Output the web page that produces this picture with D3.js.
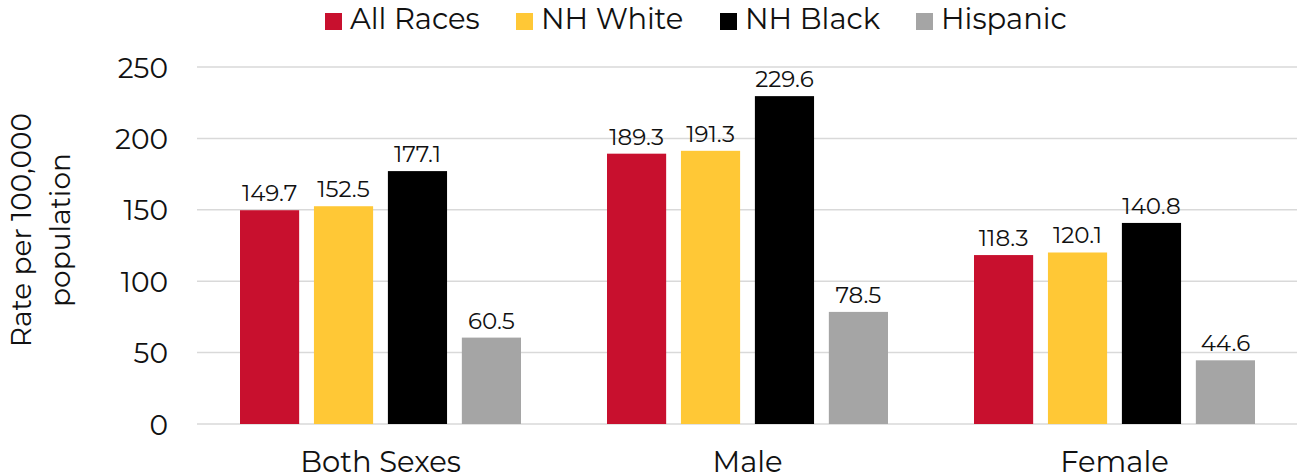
<!DOCTYPE html>
<html>
<head>
<meta charset="utf-8">
<script src="https://cdn.jsdelivr.net/npm/d3@7"></script>
<style>
  body { margin: 0; background: #fff; }
  svg text { font-family: Montserrat, "DejaVu Sans", sans-serif; fill: #111; }
</style>
</head>
<body>
<div id="chart"></div>
<script>
// data
const categories = ['Both Sexes', 'Male', 'Female'];
const seriesNames = ['All Races', 'NH White', 'NH Black', 'Hispanic'];
const allRaces = [149.7, 189.3, 118.3];
const nhWhite = [152.5, 191.3, 120.1];
const nhBlack = [177.1, 229.6, 140.8];
const hispanic = [60.5, 78.5, 44.6];
const yTicks = [0, 50, 100, 150, 200, 250];
const colors = ['#C8102E', '#FFC836', '#000000', '#A5A5A5'];

const seriesValues = [allRaces, nhWhite, nhBlack, hispanic];
const width = 1297, height = 476;
const margin = {top: 67, right: 0, bottom: 52, left: 197};

const svg = d3.select('#chart').append('svg')
  .attr('width', width)
  .attr('height', height);

const x0 = d3.scaleBand()
  .domain(categories)
  .range([margin.left, width + 1])
  .padding(0);

const outer = 43;
const x1 = d3.scaleBand()
  .domain(seriesNames)
  .range([outer, x0.bandwidth() - outer])
  .paddingInner(0.2);

const y = d3.scaleLinear()
  .domain([0, 250])
  .range([height - margin.bottom, margin.top]);

// grid
svg.append('g')
  .selectAll('line')
  .data(yTicks)
  .join('line')
  .attr('x1', margin.left)
  .attr('x2', width)
  .attr('y1', d => y(d))
  .attr('y2', d => y(d))
  .attr('stroke', '#d9d9d9')
  .attr('stroke-width', 1.5);

// y axis
const yAxis = svg.append('g')
  .attr('transform', `translate(${margin.left},0)`)
  .call(d3.axisLeft(y).tickValues(yTicks).tickSize(0).tickPadding(29));
yAxis.select('.domain').remove();
yAxis.selectAll('text')
  .style('font-size', '28px')
  .attr('dy', '0.36em');

// y title
const yt = svg.append('text')
  .attr('transform', `translate(41,230) rotate(-90)`)
  .attr('text-anchor', 'middle')
  .style('font-size', '28px');
yt.append('tspan').attr('x', 0).attr('dy', '-0.35em').text('Rate per 100,000');
yt.append('tspan').attr('x', 0).attr('dy', '1.39em').text('population');

// bars
const groups = svg.append('g')
  .selectAll('g')
  .data(categories)
  .join('g')
  .attr('transform', d => `translate(${x0(d)},0)`);

groups.selectAll('rect')
  .data((d, i) => seriesNames.map((s, j) => ({s, v: seriesValues[j][i], c: colors[j]})))
  .join('rect')
  .attr('x', d => x1(d.s))
  .attr('width', x1.bandwidth())
  .attr('y', d => y(d.v))
  .attr('height', d => y(0) - y(d.v))
  .attr('fill', d => d.c);

groups.selectAll('text.val')
  .data((d, i) => seriesNames.map((s, j) => ({s, v: seriesValues[j][i]})))
  .join('text')
  .attr('class', 'val')
  .attr('x', d => x1(d.s) + x1.bandwidth() / 2)
  .attr('y', d => y(d.v) - 9)
  .attr('text-anchor', 'middle')
  .style('font-size', '23px')
  .text(d => d.v.toFixed(1));

// x axis labels (bottom edge clips them, as in the original)
const xAxis = svg.append('g')
  .attr('transform', `translate(0,${y(0)})`)
  .call(d3.axisBottom(x0).tickSize(0).tickPadding(27));
xAxis.select('.domain').remove();
xAxis.selectAll('text').style('font-size', '29px');

// legend
const legendX = [325, 516, 720, 916];
const legend = svg.append('g')
  .selectAll('g')
  .data(seriesNames)
  .join('g')
  .attr('transform', (d, i) => `translate(${legendX[i]},13)`);
legend.append('rect')
  .attr('width', 17)
  .attr('height', 17)
  .attr('fill', (d, i) => colors[i]);
legend.append('text')
  .attr('x', 25)
  .attr('y', 16)
  .style('font-size', '29px')
  .text(d => d);
</script>
</body>
</html>
